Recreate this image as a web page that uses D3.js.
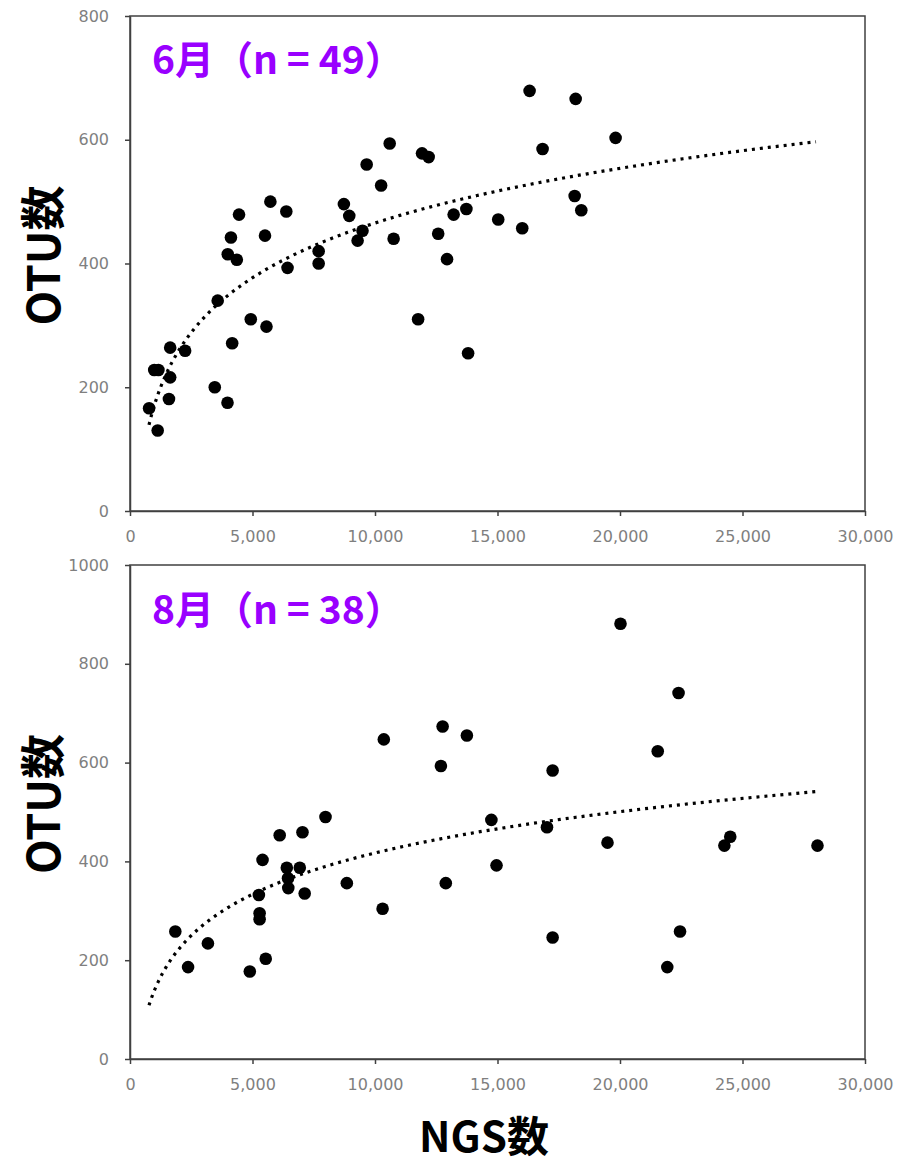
<!DOCTYPE html>
<html>
<head>
<meta charset="utf-8">
<script src="https://cdn.jsdelivr.net/npm/d3@7"></script>
<style>
    body { margin: 0; background: #fff; }
    .axis text { font-family: "DejaVu Sans", sans-serif; font-size: 16px; fill: #7f7f7f; }
    .axis path, .axis line { stroke: #404040; stroke-width: 1.5; }
</style>
</head>
<body>
<script>
// June samples (NGS reads vs OTU count)
let juneNgs = [780, 1130, 990, 1160, 1590, 1640, 1640, 2250, 3460, 3580,
    3980, 4170, 3990, 4360, 4120, 4450, 4930, 5510, 5570, 5730,
    6380, 6430, 7700, 7700, 8730, 8950, 9290, 9490, 9660, 10250,
    10600, 10760, 11760, 11920, 12190, 12580, 12940, 13210, 13730, 13800,
    15030, 16010, 16310, 18190, 19820, 16840, 18150, 18420];
let juneOtu = [166, 130, 228, 228, 181, 216, 264, 259, 200, 340,
    175, 271, 415, 406, 442, 479, 310, 445, 298, 500,
    484, 393, 420, 400, 496, 477, 437, 453, 560, 526,
    594, 440, 310, 578, 572, 448, 407, 479, 488, 255,
    471, 457, 679, 666, 603, 585, 509, 486];

// August samples
let augustNgs = [1850, 2370, 3180, 4890, 5540, 5290, 5290, 5260, 5410, 6110,
    7040, 7980, 6400, 6450, 6460, 6930, 7130, 8850, 10310, 12890,
    14750, 14960, 10360, 12760, 13750, 12690, 20020, 22390, 21540, 17250,
    17020, 19490, 24260, 24500, 28060, 17250, 22450, 21930];
let augustOtu = [258, 186, 234, 177, 203, 295, 283, 332, 403, 453,
    459, 490, 387, 366, 346, 387, 335, 356, 304, 356,
    484, 392, 647, 673, 655, 593, 881, 741, 623, 584,
    469, 438, 432, 450, 432, 246, 258, 186];

let xTicks = [0, 5000, 10000, 15000, 20000, 25000, 30000];
let juneYTicks = [0, 200, 400, 600, 800];
let augustYTicks = [0, 200, 400, 600, 800, 1000];

// Both trendlines are drawn over the same NGS range
let trendRange = [775, 28000];

let width = 897;
let height = 1165;

let svg = d3.select("body").append("svg")
    .attr("width", width)
    .attr("height", height);

drawPanel(svg, {
    top: 16, bottom: 511,
    yTicks: juneYTicks,
    xs: juneNgs, ys: juneOtu,
    title: "6月（n = 49）",
    titleY: 74
});

drawPanel(svg, {
    top: 565, bottom: 1059,
    yTicks: augustYTicks,
    xs: augustNgs, ys: augustOtu,
    title: "8月（n = 38）",
    titleY: 624
});

svg.append("text")
    .attr("x", 484)
    .attr("y", 1152)
    .attr("text-anchor", "middle")
    .style("font-family", "'Noto Sans CJK JP', sans-serif")
    .style("font-weight", "bold")
    .style("font-size", "42px")
    .text("NGS数");

function drawPanel(svg, p) {
    let left = 130;
    let right = 865;

    let scale = {
        x: d3.scaleLinear()
            .domain([0, 30000])
            .range([left, right]),
        y: d3.scaleLinear()
            .domain([0, d3.max(p.yTicks)])
            .range([p.bottom, p.top])
    };

    let axes = {
        x: d3.axisBottom(scale.x)
            .tickValues(xTicks)
            .tickFormat(d3.format(","))
            .tickSize(5)
            .tickSizeOuter(0)
            .tickPadding(15),
        y: d3.axisLeft(scale.y)
            .tickValues(p.yTicks)
            .tickFormat(d3.format("d"))
            .tickSize(5)
            .tickSizeOuter(0)
            .tickPadding(16)
    };

    // plot area frame (top and right edges)
    svg.append("rect")
        .attr("x", left)
        .attr("y", p.top)
        .attr("width", right - left)
        .attr("height", p.bottom - p.top)
        .attr("fill", "none")
        .attr("stroke", "#404040")
        .attr("stroke-width", 1.5);

    svg.append("g")
        .attr("class", "axis axis--x")
        .attr("transform", `translate(0, ${p.bottom})`)
        .call(axes.x);

    svg.append("g")
        .attr("class", "axis axis--y")
        .attr("transform", `translate(${left}, 0)`)
        .call(axes.y);

    // logarithmic trendline: least squares of y on ln(x)
    let lx = p.xs.map(Math.log);
    let mx = d3.mean(lx);
    let my = d3.mean(p.ys);
    let a = d3.sum(lx, (v, i) => (v - mx) * (p.ys[i] - my)) / d3.sum(lx, v => (v - mx) * (v - mx));
    let b = my - a * mx;

    let trendXs = d3.range(0, 101).map(i => trendRange[0] * Math.pow(trendRange[1] / trendRange[0], i / 100));
    let line = d3.line()
        .x(d => scale.x(d))
        .y(d => scale.y(a * Math.log(d) + b));

    svg.append("path")
        .datum(trendXs)
        .attr("d", line)
        .attr("fill", "none")
        .attr("stroke", "#000")
        .attr("stroke-width", 3.2)
        .attr("stroke-dasharray", "3,5");

    svg.append("g")
        .selectAll("circle")
        .data(p.xs.map((x, i) => ({x: x, y: p.ys[i]})))
        .enter()
        .append("circle")
        .attr("cx", d => scale.x(d.x))
        .attr("cy", d => scale.y(d.y))
        .attr("r", 6.3)
        .attr("fill", "#000");

    svg.append("text")
        .attr("x", 152)
        .attr("y", p.titleY)
        .style("font-family", "'Noto Sans CJK JP', sans-serif")
        .style("font-weight", "bold")
        .style("font-size", "39px")
        .style("fill", "#9900ff")
        .text(p.title);

    let midY = (p.top + p.bottom) / 2;
    svg.append("text")
        .attr("transform", `translate(60, ${midY - 8}) rotate(-90)`)
        .attr("text-anchor", "middle")
        .style("font-family", "'Noto Sans CJK JP', sans-serif")
        .style("font-weight", "bold")
        .style("font-size", "45px")
        .text("OTU数");
}
</script>
</body>
</html>
